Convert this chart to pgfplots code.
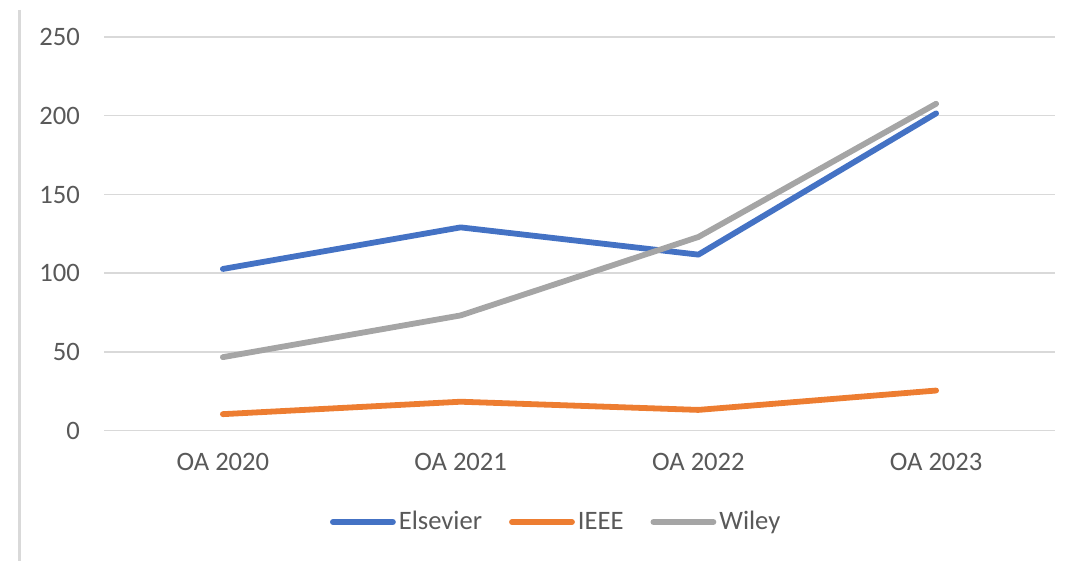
\documentclass[border=0pt]{standalone}
\usepackage{fontspec}
\setmainfont{Carlito}
\usepackage{pgfplots}
\pgfplotsset{compat=1.18}
\definecolor{cBlue}{HTML}{4472C4}
\definecolor{cOrange}{HTML}{ED7D31}
\definecolor{cGrey}{HTML}{A5A5A5}
\definecolor{cGrid}{HTML}{D9D9D9}
\definecolor{cText}{HTML}{595959}
\begin{document}
\begin{tikzpicture}
\path[use as bounding box] (0pt,0pt) rectangle (535.5pt,280.5pt);
\draw[cGrid, line width=1.1pt] (9.75pt,275.5pt) -- (9.75pt,0pt);
\begin{axis}[
  at={(52pt,65.15pt)}, anchor=south west,
  scale only axis, width=475.5pt, height=196.85pt,
  xmin=-0.5, xmax=3.5, ymin=0, ymax=250,
  xtick={0,1,2,3},
  xticklabels={OA 2020,OA 2021,OA 2022,OA 2023},
  ytick={0,50,100,150,200,250},
  axis line style={draw=none},
  tick style={draw=none},
  ymajorgrids, grid style={cGrid, line width=0.75pt},
  clip=false,
  /pgf/number format/assume math mode=true,
  ticklabel style={font=\fontsize{13.3}{16}\selectfont, text=cText},
  xticklabel style={yshift=-7.5pt},
  yticklabel style={xshift=-8.5pt},
  legend columns=3,
  legend style={at={(0.476,-0.232)}, anchor=center, draw=none, fill=none,
    font=\fontsize{13.3}{16}\selectfont, text=cText,
    nodes={inner sep=1.5pt},
    /tikz/every even column/.append style={column sep=12pt}},
  legend image code/.code={\draw[#1] (0pt,0pt) -- (30pt,0pt);},
  every axis plot/.append style={line width=2.9pt, line cap=round, line join=round},
]
\addplot[cBlue] coordinates {(0,102.7) (1,129.1) (2,111.8) (3,201.5)};
\addlegendentry{Elsevier}
\addplot[cOrange] coordinates {(0,10.5) (1,18.4) (2,13.2) (3,25.5)};
\addlegendentry{IEEE}
\addplot[cGrey] coordinates {(0,46.7) (1,73.2) (2,123) (3,207.6)};
\addlegendentry{Wiley}
\end{axis}
\end{tikzpicture}
\end{document}
